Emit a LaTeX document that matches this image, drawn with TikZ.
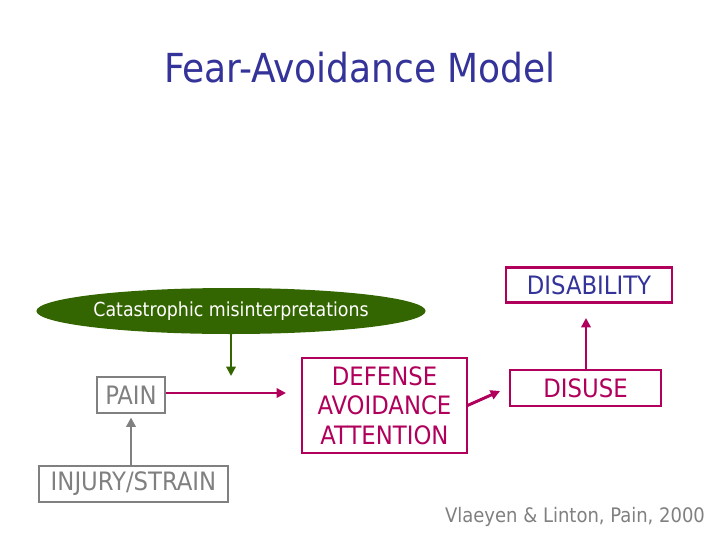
\documentclass[tikz,border=0pt]{standalone}
\usepackage{fontspec}
\setmainfont{DejaVu Sans Condensed}
\usetikzlibrary{arrows.meta,shapes.geometric}
\definecolor{ttl}{HTML}{333399}
\definecolor{mag}{HTML}{B0005C}
\definecolor{grn}{HTML}{336600}
\definecolor{gry}{HTML}{808080}
\begin{document}
\begin{tikzpicture}[x=0.75pt,y=-0.75pt,
  bx/.style={draw, rectangle, inner sep=0pt, font=\fontsize{19}{23}\selectfont, align=center},
  arr/.style={line width=2.2pt, -{Triangle[length=7pt,width=7pt]}}]
\useasboundingbox (0,0) rectangle (728,546);
\node[text=ttl, font=\fontsize{30}{36}\selectfont] (title) at (360,68) {Fear-Avoidance Model};
\node[ellipse, fill=grn, minimum width=387*0.75pt, minimum height=46*0.75pt, inner sep=0pt, text=white, font=\fontsize{14.5}{17}\selectfont] (cat) at (231,311) {Catastrophic misinterpretations};
\node[bx, draw=gry, text=gry, line width=0.8pt, minimum width=68*0.75pt, minimum height=36*0.75pt] (pain) at (131,395) {PAIN};
\node[bx, draw=gry, text=gry, line width=2.2pt, minimum width=189*0.75pt, minimum height=36*0.75pt] (inj) at (133.5,484) {INJURY/STRAIN};
\node[bx, draw=mag, text=mag, line width=0.8pt, minimum width=165*0.75pt, minimum height=95*0.75pt, font=\fontsize{19}{22}\selectfont] (def) at (384.5,405.5) {DEFENSE\\AVOIDANCE\\ATTENTION};
\node[bx, draw=mag, text=mag, line width=0.8pt, minimum width=151*0.75pt, minimum height=36*0.75pt] (dis) at (585.5,388) {DISUSE};
\node[bx, draw=mag, text=ttl, line width=2.2pt, minimum width=166*0.75pt, minimum height=35*0.75pt] (dab) at (589,285) {DISABILITY};
\node[text=gry, font=\fontsize{15}{18}\selectfont] (cit) at (575,517) {Vlaeyen \& Linton, Pain, 2000};
\coordinate (c1) at (231,376);
\coordinate (c2) at (286,393);
\coordinate (c3) at (586,318);
\coordinate (c4) at (500,391);
\draw[arr, grn, line width=1.6pt] (cat.south -| c1) -- (c1);
\draw[arr, mag] (pain.east |- c2) -- (c2);
\draw[arr, mag] (def.east) -- (c4);
\draw[arr, mag] (dis.north -| c3) -- (c3);
\draw[arr, gry] (inj.north -| pain) -- ([yshift=-3pt]pain.south);
\end{tikzpicture}
\end{document}
